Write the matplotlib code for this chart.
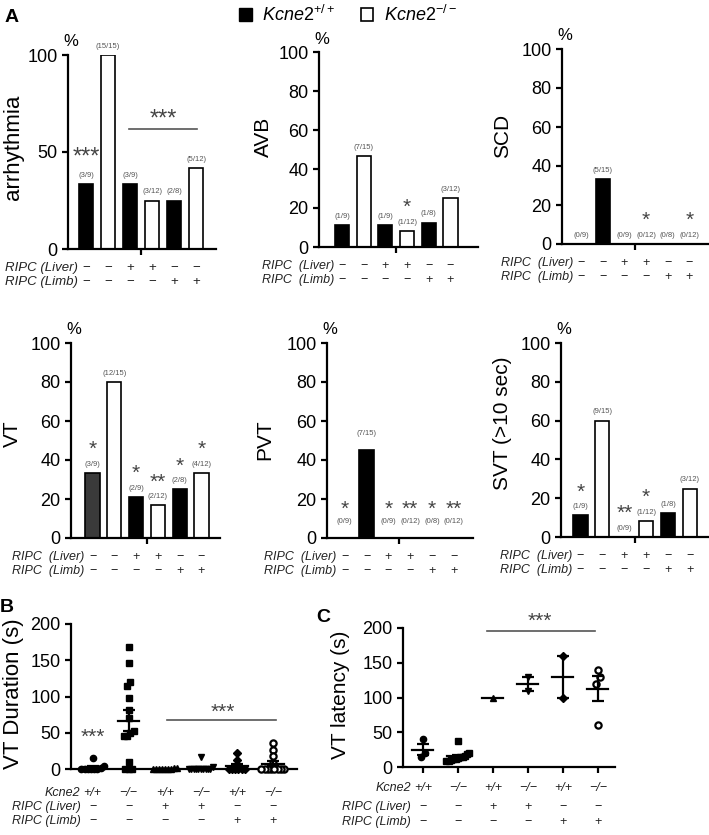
import numpy as np
import matplotlib
matplotlib.use('Agg')
import matplotlib.pyplot as plt
from matplotlib.patches import Patch

plt.rcParams['font.family'] = ['Liberation Sans', 'DejaVu Sans']
plt.rcParams['mathtext.fontset'] = 'custom'
plt.rcParams['mathtext.rm'] = 'Liberation Sans'
plt.rcParams['mathtext.it'] = 'Liberation Sans:italic'

# ---- data ----
liver_signs = ['−', '−', '+', '+', '−', '−']
limb_signs = ['−', '−', '−', '−', '+', '+']
genotype = ['+/+', '−/−', '+/+', '−/−', '+/+', '−/−']

arrhythmia_pct = [33.3, 100, 33.3, 25, 25, 41.7]
arrhythmia_n = ['(3/9)', '(15/15)', '(3/9)', '(3/12)', '(2/8)', '(5/12)']
arrhythmia_sig = ['***', '', '', '', '', '']

avb_pct = [11.1, 46.7, 11.1, 8.3, 12.5, 25]
avb_n = ['(1/9)', '(7/15)', '(1/9)', '(1/12)', '(1/8)', '(3/12)']
avb_sig = ['', '', '', '*', '', '']

scd_pct = [0, 33.3, 0, 0, 0, 0]
scd_n = ['(0/9)', '(5/15)', '(0/9)', '(0/12)', '(0/8)', '(0/12)']
scd_sig = ['', '', '', '*', '', '*']

vt_pct = [33.3, 80, 21, 16.7, 25, 33.3]
vt_n = ['(3/9)', '(12/15)', '(2/9)', '(2/12)', '(2/8)', '(4/12)']
vt_sig = ['*', '', '*', '**', '*', '*']

pvt_pct = [0, 45, 0, 0, 0, 0]
pvt_n = ['(0/9)', '(7/15)', '(0/9)', '(0/12)', '(0/8)', '(0/12)']
pvt_sig = ['*', '', '*', '**', '*', '**']

svt_pct = [11.1, 60, 0, 8.3, 12.5, 25]
svt_n = ['(1/9)', '(9/15)', '(0/9)', '(1/12)', '(1/8)', '(3/12)']
svt_sig = ['*', '', '**', '*', '', '']

# panel B: VT duration (s)
dur_wt = [15, 4, 2, 0, 0, 0, 0, 0, 0]
dur_ko = [168, 146, 120, 114, 98, 82, 70, 52, 50, 46, 46, 10, 0, 0, 0]
dur_wt_liver = [1, 1, 0, 0, 0, 0, 0, 0, 0]
dur_ko_liver = [17, 3, 0, 0, 0, 0, 0, 0, 0, 0, 0, 0]
dur_wt_limb = [22, 12, 0, 0, 0, 0, 0, 0]
dur_ko_limb = [36, 26, 18, 8, 0, 0, 0, 0, 0, 0, 0, 0]

# panel C: VT latency (s)
lat_wt = [40, 15, 20]
lat_ko = [37, 20, 18, 16, 15, 14, 13, 12, 11, 10, 9, 8]
lat_wt_liver = [100]
lat_ko_liver = [130, 110]
lat_wt_limb = [160, 100]
lat_ko_limb = [140, 130, 120, 60]

W, H = 709, 835
fig = plt.figure(figsize=(W / 100, H / 100), dpi=100)
STAR = '#444444'
GREY = '#555555'


def px_axes(x0, y0, x1, y1):
    return fig.add_axes([x0 / W, 1 - y1 / H, (x1 - x0) / W, (y1 - y0) / H])


def px_text(x, y, s, **kw):
    return fig.text(x / W, 1 - y / H, s, **kw)


def style_axes(ax, lw=1.6):
    ax.spines[['top', 'right']].set_visible(False)
    ax.spines[['left', 'bottom']].set_linewidth(lw)
    ax.tick_params(width=lw, length=4)


def sign_rows(ax, rows, offsets, fs, label_gap):
    for (name, signs, italic_signs), dy in zip(rows, offsets):
        for i, s in enumerate(signs):
            ax.annotate(s, xy=(i, 0), xycoords=('data', 'axes fraction'),
                        xytext=(0, -dy), textcoords='offset pixels',
                        ha='center', va='center', fontsize=fs, color='#222222',
                        style='italic' if italic_signs else 'normal')
        ax.annotate(name, xy=(0, 0), xycoords=('data', 'axes fraction'),
                    xytext=(-label_gap, -dy), textcoords='offset pixels',
                    ha='right', va='center', fontsize=fs, style='italic',
                    color='#222222')


# ---- panel A: incidence bar charts ----
# (pct, counts, sig, box px, xlim, ylabel, ylabel centre px, yticks, black bars)
bar_panels = [
    (arrhythmia_pct, arrhythmia_n, arrhythmia_sig, (68, 55, 216, 249), (-0.82, 5.9),
     'arrhythmia', (14, 147), [0, 50, 100], [0, 2, 4]),
    (avb_pct, avb_n, avb_sig, (319, 52, 478, 247), (-1.06, 6.27),
     'AVB', (263, 137), [0, 20, 40, 60, 80, 100], [0, 2, 4]),
    (scd_pct, scd_n, scd_sig, (562, 49, 709, 244), (-0.88, 5.9),
     'SCD', (503, 136), [0, 20, 40, 60, 80, 100], [1]),
    (vt_pct, vt_n, vt_sig, (71, 343, 220, 538), (-0.99, 5.85),
     'VT', (12, 434), [0, 20, 40, 60, 80, 100], [0, 2, 4]),
    (pvt_pct, pvt_n, pvt_sig, (327, 343, 473, 538), (-0.81, 5.88),
     'PVT', (265, 440), [0, 20, 40, 60, 80, 100], [1]),
    (svt_pct, svt_n, svt_sig, (561, 343, 709, 537), (-0.89, 5.87),
     'SVT (>10 sec)', (503, 423), [0, 20, 40, 60, 80, 100], [0, 2, 4]),
]

for k, (pct, counts, sig, box, xlim, ylab, lab_xy, yticks, black) in enumerate(bar_panels):
    ax = px_axes(*box)
    x = np.arange(len(pct))
    colors = ['black' if i in black else 'white' for i in x]
    if ylab == 'VT':
        colors[0] = '#3a3a3a'
    ax.bar(x, pct, width=0.65, color=colors, edgecolor='black', linewidth=1.2)
    ax.set_xlim(*xlim)
    ax.set_ylim(0, 100)
    ax.set_yticks(yticks)
    ax.set_xticks([2.5])
    ax.set_xticklabels([])
    style_axes(ax)
    big = ylab == 'arrhythmia'
    ax.tick_params(axis='y', labelsize=13)
    px_text(lab_xy[0], lab_xy[1], ylab, rotation=90, ha='center', va='center',
            fontsize=16 if big else 15)
    ax.annotate('%', xy=(0, 1), xycoords='axes fraction', xytext=(3, 13),
                textcoords='offset pixels', ha='center', va='center', fontsize=12)

    pad = 8.5 if ylab == 'PVT' else 4.5
    gap = 6 if ylab == 'PVT' else 7.5
    for i, (v, c, s) in enumerate(zip(pct, counts, sig)):
        ax.text(i, v + pad, c, ha='center', va='center', fontsize=5.5, color=GREY)
        if s:
            ax.text(i, v + pad + gap + (2 if big else 0), s, ha='center', va='center',
                    fontsize=17 if big else 15, color=STAR)

    if big:
        ax.plot([1.95, 5.05], [62, 62], color=GREY, lw=1.2)
        ax.text(3.5, 66.5, '***', ha='center', va='center', fontsize=17, color=STAR)
        rows = [('RIPC (Liver)', liver_signs, False), ('RIPC (Limb)', limb_signs, False)]
    else:
        rows = [('RIPC  (Liver)', liver_signs, False), ('RIPC  (Limb)', limb_signs, False)]
    sign_rows(ax, rows, [19, 33], 9.5 if big else 9, 8)


# ---- panels B and C: scatter with mean +/- SEM ----
markers = [dict(marker='o', mfc='black'), dict(marker='s', mfc='black'),
           dict(marker='^', mfc='black'), dict(marker='v', mfc='black'),
           dict(marker='D', mfc='black', ms=3.8), dict(marker='o', mfc='white', mew=1.6)]


def swarm(vals, thresh, step=0.09, maxw=0.33):
    vals = np.asarray(vals, float)
    order = np.argsort(vals)
    offs = np.zeros(len(vals))
    groups, cur = [], [order[0]]
    for j in order[1:]:
        if vals[j] - vals[cur[0]] <= thresh:
            cur.append(j)
        else:
            groups.append(cur)
            cur = [j]
    groups.append(cur)
    for g in groups:
        n = len(g)
        w = min(maxw, step * (n - 1) / 2)
        for j, o in zip(g, np.linspace(-w, w, n)):
            offs[j] = o
    return offs


def scatter_panel(box, xlim, groups, thresh, step):
    ax = px_axes(*box)
    for i, vals in enumerate(groups):
        m = dict(ms=4.5, mec='black', ls='none', clip_on=False)
        m.update(markers[i])
        ax.plot(i + swarm(vals, thresh, step), vals, **m, zorder=3)
        mean = np.mean(vals)
        ax.plot([i - 0.3, i + 0.3], [mean, mean], color='black', lw=1.6, zorder=4)
        if len(vals) > 1:
            sem = np.std(vals, ddof=1) / np.sqrt(len(vals))
            ax.errorbar(i, mean, yerr=sem, fmt='none', ecolor='black', elinewidth=1.6,
                        capsize=4, capthick=1.6, zorder=4)
    ax.set_xlim(*xlim)
    ax.set_ylim(0, 200)
    ax.set_yticks([0, 50, 100, 150, 200])
    style_axes(ax)
    ax.tick_params(axis='y', labelsize=13)
    return ax


axB = scatter_panel((71, 624, 297, 769), (-0.6, 5.67),
                    [dur_wt, dur_ko, dur_wt_liver, dur_ko_liver, dur_wt_limb, dur_ko_limb],
                    6, 0.09)
axB.set_xticks([])
axB.text(0, 43, '***', ha='center', va='center', fontsize=15, color=STAR)
axB.plot([2.05, 5.1], [67, 67], color=GREY, lw=1.2)
axB.text(3.6, 78, '***', ha='center', va='center', fontsize=15, color=STAR)
px_text(14, 694, 'VT Duration (s)', rotation=90, ha='center', va='center', fontsize=16)
sign_rows(axB, [('Kcne2', genotype, True), ('RIPC (Liver)', liver_signs, False),
                ('RIPC (Limb)', limb_signs, False)], [24, 38, 52], 9, 12)

axC = scatter_panel((403, 628, 615, 767), (-0.57, 5.49),
                    [lat_wt, lat_ko, lat_wt_liver, lat_ko_liver, lat_wt_limb, lat_ko_limb],
                    12, 0.12)
axC.set_xticks(range(6))
axC.set_xticklabels([])
axC.plot([1.83, 4.91], [195, 195], color=GREY, lw=1.2, clip_on=False)
axC.text(3.35, 210, '***', ha='center', va='center', fontsize=15, color=STAR, clip_on=False)
px_text(340, 695, 'VT latency (s)', rotation=90, ha='center', va='center', fontsize=15)
sign_rows(axC, [('Kcne2', genotype, True), ('RIPC (Liver)', liver_signs, False),
                ('RIPC (Limb)', limb_signs, False)], [21, 40, 55], 9, 12)

# ---- panel letters and legend ----
px_text(12, 17, 'A', ha='center', va='center', fontsize=14, weight='bold')
px_text(7, 607, 'B', ha='center', va='center', fontsize=14, weight='bold')
px_text(323, 617, 'C', ha='center', va='center', fontsize=14, weight='bold')

handles = [Patch(facecolor='black', edgecolor='black'),
           Patch(facecolor='white', edgecolor='black', linewidth=1.2)]
fig.legend(handles, [r'$\mathit{Kcne2}^{+/+}$', r'$\mathit{Kcne2}^{-/-}$'],
           loc='center', bbox_to_anchor=(348 / W, 1 - 15 / H), ncol=2, frameon=False,
           fontsize=13, handlelength=0.7, handleheight=0.7, handletextpad=0.6,
           columnspacing=1.4)

fig.savefig('out.png', dpi=100)
